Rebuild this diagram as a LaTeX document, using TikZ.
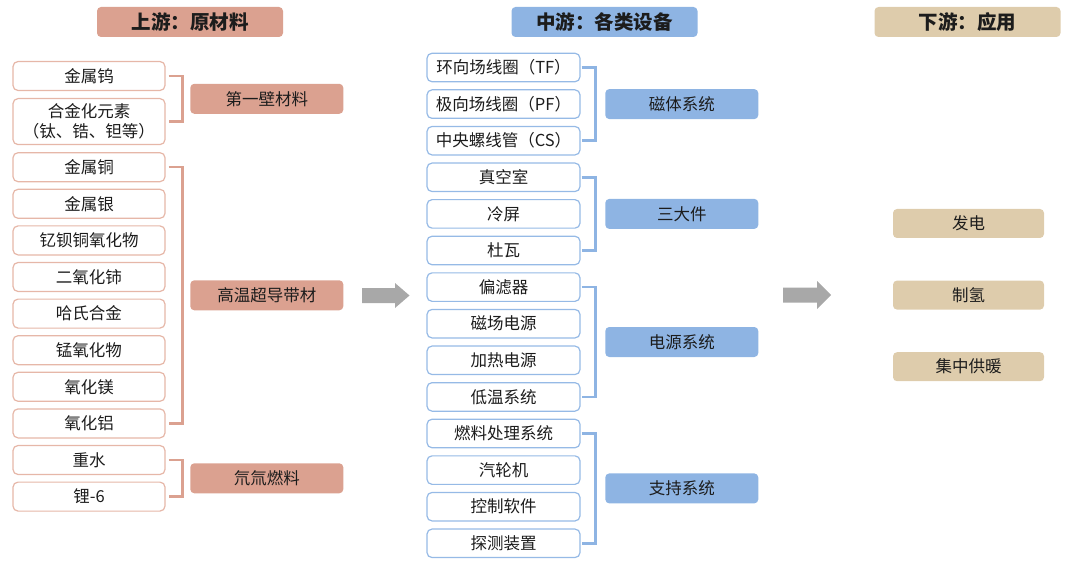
\documentclass[tikz,border=0pt]{standalone}
\usepackage{fontspec}
\setmainfont{Noto Sans CJK SC}
\usetikzlibrary{positioning}

\definecolor{upColor}{RGB}{219,161,144}
\definecolor{upLine}{RGB}{230,183,168}
\definecolor{midColor}{RGB}{142,180,227}
\definecolor{midLine}{RGB}{150,186,230}
\definecolor{downColor}{RGB}{222,204,172}
\definecolor{arrowColor}{RGB}{168,168,168}
\definecolor{textColor}{RGB}{28,28,28}

\begin{document}
\begin{tikzpicture}[x=1pt,y=-1pt,node distance=36.6pt,
    every node/.style={text=textColor,font=\fontsize{16.5}{20}\selectfont},
    head/.style={rounded corners=4pt,minimum width=186pt,minimum height=30pt,inner sep=0pt,font=\fontsize{19.5}{22}\selectfont\bfseries},
    box/.style={fill=white,line width=1.2pt,rounded corners=5pt,minimum height=29pt,inner sep=0pt},
    upBox/.style={box,draw=upLine,minimum width=152pt},
    midBox/.style={box,draw=midLine,minimum width=153pt,minimum height=28.5pt},
    label/.style={rounded corners=4pt,minimum width=153pt,minimum height=30pt,inner sep=0pt},
    brace/.style={line width=2.5pt}]
    \useasboundingbox (0,0) rectangle (1080,567);

    % upstream
    \node[head,fill=upColor] (upHead) at (190,22) {上游：原材料};
    \node[upBox] (tungsten) at (89,76) {金属钨};
    \node[upBox,below of = tungsten,yshift=-9pt,minimum height=46pt,align=center] (alloy) {合金化元素\\（钛、锆、钽等）};
    \node[upBox,below of = alloy,yshift=-9pt] (copper) {金属铜};
    \node[upBox,below of = copper] (silver) {金属银};
    \node[upBox,below of = silver] (ybco) {钇钡铜氧化物};
    \node[upBox,below of = ybco] (ceria) {二氧化铈};
    \node[upBox,below of = ceria] (hastelloy) {哈氏合金};
    \node[upBox,below of = hastelloy] (manganese) {锰氧化物};
    \node[upBox,below of = manganese] (magnesia) {氧化镁};
    \node[upBox,below of = magnesia] (alumina) {氧化铝};
    \node[upBox,below of = alumina] (heavyWater) {重水};
    \node[upBox,below of = heavyWater] (lithium) {锂-6};

    \draw[brace,upColor] ([xshift=3pt]tungsten.east) -- ++(14pt,0) |- ([xshift=3pt]alloy.east);
    \draw[brace,upColor] ([xshift=3pt]copper.east) -- ++(14pt,0) |- ([xshift=3pt]alumina.east);
    \draw[brace,upColor] ([xshift=3pt]heavyWater.east) -- ++(14pt,0) |- ([xshift=3pt]lithium.east);

    \path (tungsten.east) -- (alloy.east) coordinate[midway] (wallMid);
    \path (copper.east) -- (alumina.east) coordinate[midway] (tapeMid);
    \path (heavyWater.east) -- (lithium.east) coordinate[midway] (fuelMid);
    \node[label,fill=upColor,right=24.5pt of wallMid] (wall) {第一壁材料};
    \node[label,fill=upColor,right=24.5pt of tapeMid] (tape) {高温超导带材};
    \node[label,fill=upColor,right=24.5pt of fuelMid] (fuel) {氘氚燃料};

    % midstream
    \node[head,fill=midColor] (midHead) at (604.5,22) {中游：各类设备};
    \node[midBox] (tf) at (503.5,67.5) {环向场线圈（TF）};
    \node[midBox,below of = tf] (pf) {极向场线圈（PF）};
    \node[midBox,below of = pf] (cs) {中央螺线管（CS）};
    \node[midBox,below of = cs] (vessel) {真空室};
    \node[midBox,below of = vessel] (shield) {冷屏};
    \node[midBox,below of = shield] (dewar) {杜瓦};
    \node[midBox,below of = dewar] (divertor) {偏滤器};
    \node[midBox,below of = divertor] (magPower) {磁场电源};
    \node[midBox,below of = magPower] (heatPower) {加热电源};
    \node[midBox,below of = heatPower] (cryo) {低温系统};
    \node[midBox,below of = cryo] (fuelCycle) {燃料处理系统};
    \node[midBox,below of = fuelCycle] (turbine) {汽轮机};
    \node[midBox,below of = turbine] (control) {控制软件};
    \node[midBox,below of = control] (detector) {探测装置};

    \draw[brace,midColor] ([xshift=1pt]tf.east) -- ++(14pt,0) |- ([xshift=1pt]cs.east);
    \draw[brace,midColor] ([xshift=1pt]vessel.east) -- ++(14pt,0) |- ([xshift=1pt]dewar.east);
    \draw[brace,midColor] ([xshift=1pt]divertor.east) -- ++(14pt,0) |- ([xshift=1pt]cryo.east);
    \draw[brace,midColor] ([xshift=1pt]fuelCycle.east) -- ++(14pt,0) |- ([xshift=1pt]detector.east);

    \path (tf.east) -- (cs.east) coordinate[midway] (magnetMid);
    \path (vessel.east) -- (dewar.east) coordinate[midway] (bigThreeMid);
    \path (divertor.east) -- (cryo.east) coordinate[midway] (powerMid);
    \path (fuelCycle.east) -- (detector.east) coordinate[midway] (supportMid);
    \node[label,fill=midColor,right=24.5pt of magnetMid] (magnet) {磁体系统};
    \node[label,fill=midColor,right=24.5pt of bigThreeMid] (bigThree) {三大件};
    \node[label,fill=midColor,right=24.5pt of powerMid] (power) {电源系统};
    \node[label,fill=midColor,right=24.5pt of supportMid] (support) {支持系统};

    % downstream
    \node[head,fill=downColor] (downHead) at (967.5,22) {下游：应用};
    \node[label,fill=downColor,minimum width=151pt,minimum height=29pt] (electricity) at (968.5,223.5) {发电};
    \node[label,fill=downColor,minimum width=151pt,minimum height=29pt,below of = electricity,yshift=-35pt] (hydrogen) {制氢};
    \node[label,fill=downColor,minimum width=151pt,minimum height=29pt,below of = hydrogen,yshift=-35pt] (heating) {集中供暖};

    % flow arrows
    \fill[arrowColor] (362,288) -- (395,288) -- (395,283) -- (409.5,295.5) -- (395,308) -- (395,303) -- (362,303) -- cycle;
    \fill[arrowColor] (783,287.5) -- (817,287.5) -- (817,281) -- (831,295) -- (817,309) -- (817,302.5) -- (783,302.5) -- cycle;
\end{tikzpicture}
\end{document}
